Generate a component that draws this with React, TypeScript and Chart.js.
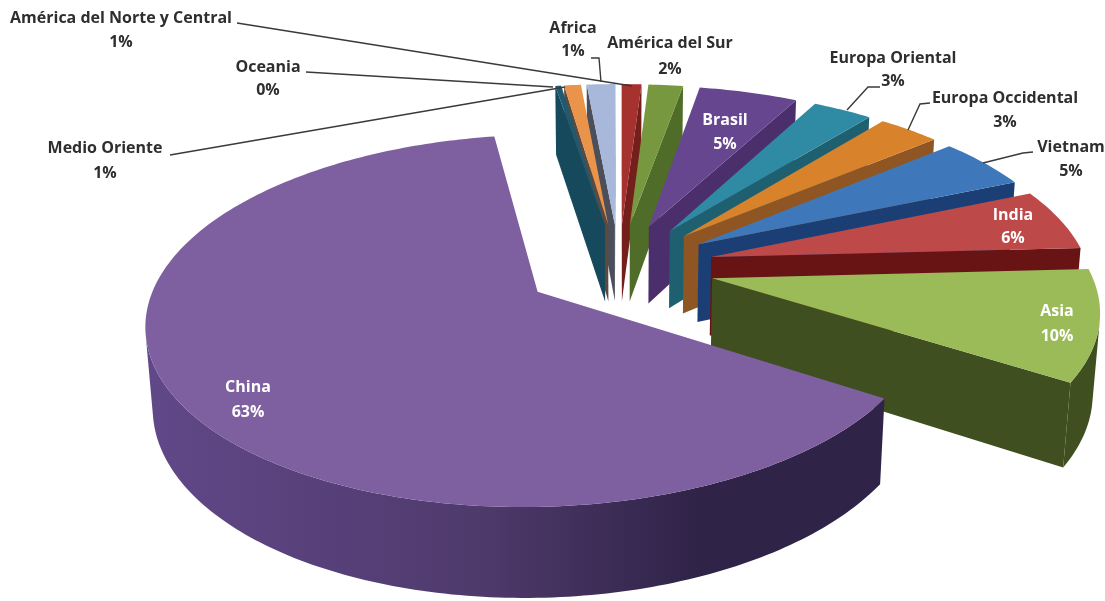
import React, { useEffect, useRef } from "react";
import Chart from "chart.js/auto";

// Shares by region, clockwise from the large slice.
const regions = [
  "China", "Oceania", "Medio Oriente", "Africa", "América del Norte y Central", "América del Sur",
  "Brasil", "Europa Oriental", "Europa Occidental", "Vietnam", "India", "Asia",
];
const shares = [63.35, 0.3, 0.85, 1.45, 1.0, 1.75, 5.0, 3.0, 3.1, 4.7, 5.6, 9.9];

const topColors = [
  "#7e5fa0", "#1f5a70", "#e9944a", "#a8b8da", "#a5322f", "#78983f",
  "#674690", "#2f8aa4", "#d8822c", "#3f78ba", "#bd4a48", "#9bbb59",
];
const wallColors = [
  "#614889", "#17495c", "#5a4a40", "#4b4f5c", "#741f1c", "#4f6d28",
  "#4a2f6c", "#1e5f70", "#8f5522", "#1b3f74", "#681414", "#3f4f20",
];
const wallShadeColors = [
  "#2f2347", "#17495c", "#5a4a40", "#4b4f5c", "#741f1c", "#4f6d28",
  "#4a2f6c", "#1e5f70", "#8f5522", "#1b3f74", "#681414", "#3f4f20",
];

// Label anchors: centre x, first line y, second line y, text colour.
const labelPlacement: [number, number, number, string][] = [
  [248, 387, 412, "#ffffff"],
  [268, 67, 90, "#2e2e2e"],
  [105, 148, 173, "#2e2e2e"],
  [573, 28, 51, "#2e2e2e"],
  [121, 18, 42, "#2e2e2e"],
  [670, 43, 69, "#2e2e2e"],
  [725, 120, 144, "#ffffff"],
  [893, 58, 81, "#2e2e2e"],
  [1005, 98, 122, "#2e2e2e"],
  [1071, 147, 171, "#2e2e2e"],
  [1013, 215, 238, "#ffffff"],
  [1057, 311, 336, "#ffffff"],
];

// Leader lines from the outer labels to their slices.
const leaderLines: [number, number][][] = [
  [[306, 72], [553, 87]],
  [[170, 155], [565, 87]],
  [[591, 58], [599, 58], [601, 82]],
  [[237, 23], [632, 86]],
  [[880, 87], [868, 87], [847, 110]],
  [[930, 103], [920, 104], [908, 130]],
  [[1033, 152], [1023, 153], [983, 163]],
];

// Perspective view of the pie: screen centre, disk radii, foreshortening, wall height.
const VIEW = { cx: 619, cy: 267, rx: 377, ry: 174, persp: 0.153, wall: 80, wallPersp: 0.015 };
const DISK_RADIUS = 200;
const EXPLODE = 50.6;

type Pt = { x: number; y: number };

const project = (u: number, v: number, h: number): Pt => {
  const w = 1 - VIEW.persp * v + VIEW.wallPersp * h;
  return {
    x: VIEW.cx + (VIEW.rx * u) / w,
    y: VIEW.cy + (VIEW.ry * v + VIEW.wall * h) / w,
  };
};

const tracePolygon = (ctx: CanvasRenderingContext2D, points: Pt[]) => {
  ctx.beginPath();
  points.forEach((p, k) => (k ? ctx.lineTo(p.x, p.y) : ctx.moveTo(p.x, p.y)));
  ctx.closePath();
};

const pie3d = {
  id: "pie3d",
  beforeDatasetsDraw(chart: any) {
    const ctx: CanvasRenderingContext2D = chart.ctx;
    const arcs = chart.getDatasetMeta(0).data as any[];

    const order = arcs
      .map((arc, index) => ({ arc, index, mid: (arc.startAngle + arc.endAngle) / 2 }))
      .sort((a, b) => Math.sin(a.mid) - Math.sin(b.mid));

    for (const { arc, index, mid } of order) {
      const e = (arc.options.offset || 0) / DISK_RADIUS;
      const u0 = Math.cos(mid) * e;
      const v0 = Math.sin(mid) * e;
      const rim: [number, number][] = [[u0, v0]];
      const steps = Math.max(2, Math.ceil(((arc.endAngle - arc.startAngle) * 180) / Math.PI));
      for (let i = 0; i <= steps; i++) {
        const a = arc.startAngle + ((arc.endAngle - arc.startAngle) * i) / steps;
        rim.push([u0 + Math.cos(a), v0 + Math.sin(a)]);
      }
      const top = rim.map(([u, v]) => project(u, v, 0));
      const low = rim.map(([u, v]) => project(u, v, 1));

      const xs = top.map((p) => p.x);
      const shade = ctx.createLinearGradient(Math.min(...xs), 0, Math.max(...xs), 0);
      const plain = wallColors[index] === wallShadeColors[index];
      shade.addColorStop(0, wallColors[index]);
      shade.addColorStop(0.45, plain ? wallColors[index] : "#4f3a6c");
      shade.addColorStop(0.75, wallShadeColors[index]);
      shade.addColorStop(1, wallShadeColors[index]);

      // Only the walls that face the viewer get painted; neighbouring ones merge into one shape.
      const faces = (i: number) => {
        const j = (i + 1) % top.length;
        const q = [top[i], top[j], low[j], low[i]];
        let area = 0;
        for (let k = 0; k < 4; k++) {
          const n = q[(k + 1) % 4];
          area += q[k].x * n.y - n.x * q[k].y;
        }
        return area < 0;
      };
      ctx.fillStyle = shade;
      let first = -1;
      const flush = (from: number, to: number) => {
        const upper = [];
        const lower = [];
        for (let i = from; i <= to; i++) {
          upper.push(top[i % top.length]);
          lower.unshift(low[i % top.length]);
        }
        tracePolygon(ctx, [...upper, ...lower]);
        ctx.fill();
      };
      for (let i = 0; i <= top.length; i++) {
        const isRadial = i === 0 || i === top.length - 1;
        const on = i < top.length && faces(i);
        if (first >= 0 && (!on || isRadial)) {
          flush(first, i);
          first = -1;
        }
        if (on && first < 0) first = i;
        if (on && isRadial) {
          flush(i, i + 1);
          first = -1;
        }
      }

      tracePolygon(ctx, top);
      ctx.fillStyle = arc.options.backgroundColor;
      ctx.fill();
    }

    ctx.strokeStyle = "#3a3a3a";
    ctx.lineWidth = 1.4;
    for (const line of leaderLines) {
      ctx.beginPath();
      line.forEach(([x, y], k) => (k ? ctx.lineTo(x, y) : ctx.moveTo(x, y)));
      ctx.stroke();
    }

    const total = shares.reduce((sum, value) => sum + value, 0);
    ctx.font = "700 16px 'Open Sans'";
    ctx.textAlign = "center";
    ctx.textBaseline = "middle";
    regions.forEach((name, i) => {
      const [x, y1, y2, color] = labelPlacement[i];
      ctx.fillStyle = color;
      ctx.fillText(name, x, y1);
      ctx.fillText(`${Math.round((shares[i] / total) * 100)}%`, x, y2);
    });
    return false;
  },
};

export default function App() {
  const ref = useRef<HTMLCanvasElement>(null);
  useEffect(() => {
    const chart = new Chart(ref.current!, {
      type: "pie",
      data: {
        labels: regions,
        datasets: [{ data: shares, backgroundColor: topColors, offset: EXPLODE, borderWidth: 0 }],
      },
      options: {
        animation: false,
        responsive: false,
        rotation: 122.6,
        radius: DISK_RADIUS,
        plugins: { legend: { display: false }, tooltip: { enabled: false } },
      },
      plugins: [pie3d],
    } as any);
    return () => chart.destroy();
  }, []);
  return (
    <div style={{ position: "absolute", left: 0, top: 0, width: 1105, height: 601, background: "#ffffff" }}>
      <canvas ref={ref} width={1105} height={601} style={{ display: "block" }} />
    </div>
  );
}
